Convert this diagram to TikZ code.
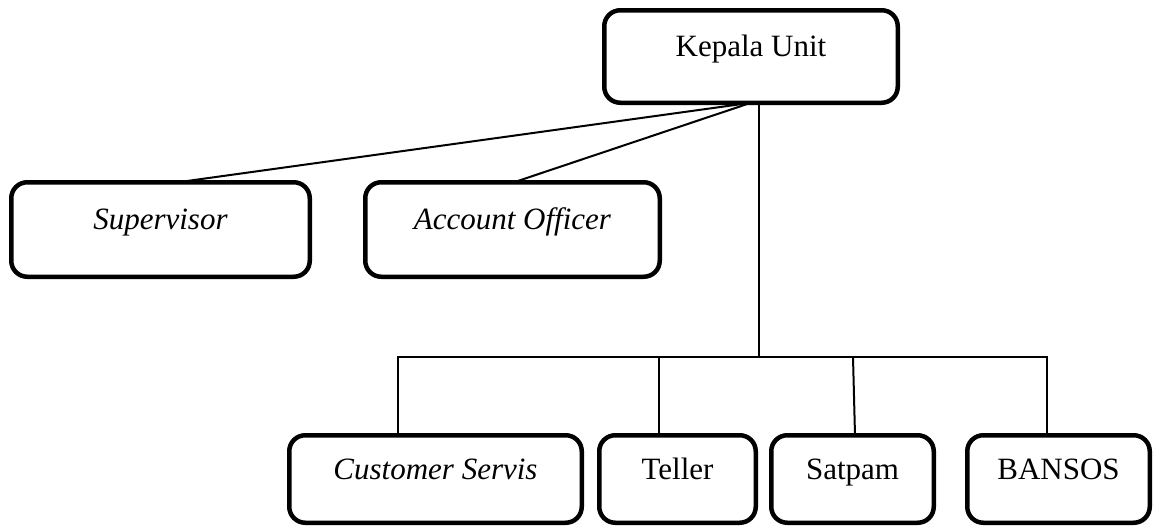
\documentclass[tikz,border=0pt]{standalone}
\usepackage{fontspec}
\setmainfont{Liberation Serif}
\begin{document}
\begin{tikzpicture}[x=1pt,y=-1pt,
  unitbox/.style={draw=black, line width=4.5pt, rounded corners=16pt,
    fill=white, outer sep=0pt, inner sep=0pt, align=center,
    text height=12pt, text depth=12pt,
    font=\fontsize{31}{36}\selectfont},
  conn/.style={draw=black, line width=2pt}]
\useasboundingbox (0,0) rectangle (1154,528);

% head of the unit
\node[unitbox, minimum width=293.5pt, minimum height=92.5pt] (ku) at (751,56.5) {Kepala Unit};

% staff directly under the head
\node[unitbox, minimum width=298.5pt, minimum height=94.5pt] (sup) at (160.5,229.5) {\textit{Supervisor}};
\node[unitbox, minimum width=294.5pt, minimum height=94.5pt] (ao) at (512.5,229.5) {\textit{Account Officer}};

% front-line staff
\node[unitbox, minimum width=292.5pt, minimum height=87.5pt] (cs) at (435.5,479) {\textit{Customer Servis}};
\node[unitbox, minimum width=156.5pt, minimum height=87.5pt] (tl) at (677.5,479) {Teller};
\node[unitbox, minimum width=162.5pt, minimum height=87.5pt] (sp) at (852.5,479) {Satpam};
\node[unitbox, minimum width=182.5pt, minimum height=87.5pt] (bs) at (1058.5,479) {BANSOS};

% connectors from the head
\draw[conn] (ku.south) -- ([xshift=17.5pt]sup.north);
\draw[conn] (ku.south) -- ([xshift=1.5pt]ao.north);

\coordinate (hub) at (759,357);
\draw[conn] ([xshift=8pt]ku.south) -- (hub);
\draw[conn] ([xshift=-37.5pt]cs.north) -- ([xshift=-37.5pt]cs.north |- hub)
  -- ([xshift=-11.5pt]bs.north |- hub) -- ([xshift=-11.5pt]bs.north);
\draw[conn] ([xshift=-18.5pt]tl.north) -- ([xshift=-18.5pt]tl.north |- hub);
\draw[conn] ([xshift=2.5pt]sp.north) -- ([xshift=0.5pt]sp.north |- hub);
\end{tikzpicture}
\end{document}
